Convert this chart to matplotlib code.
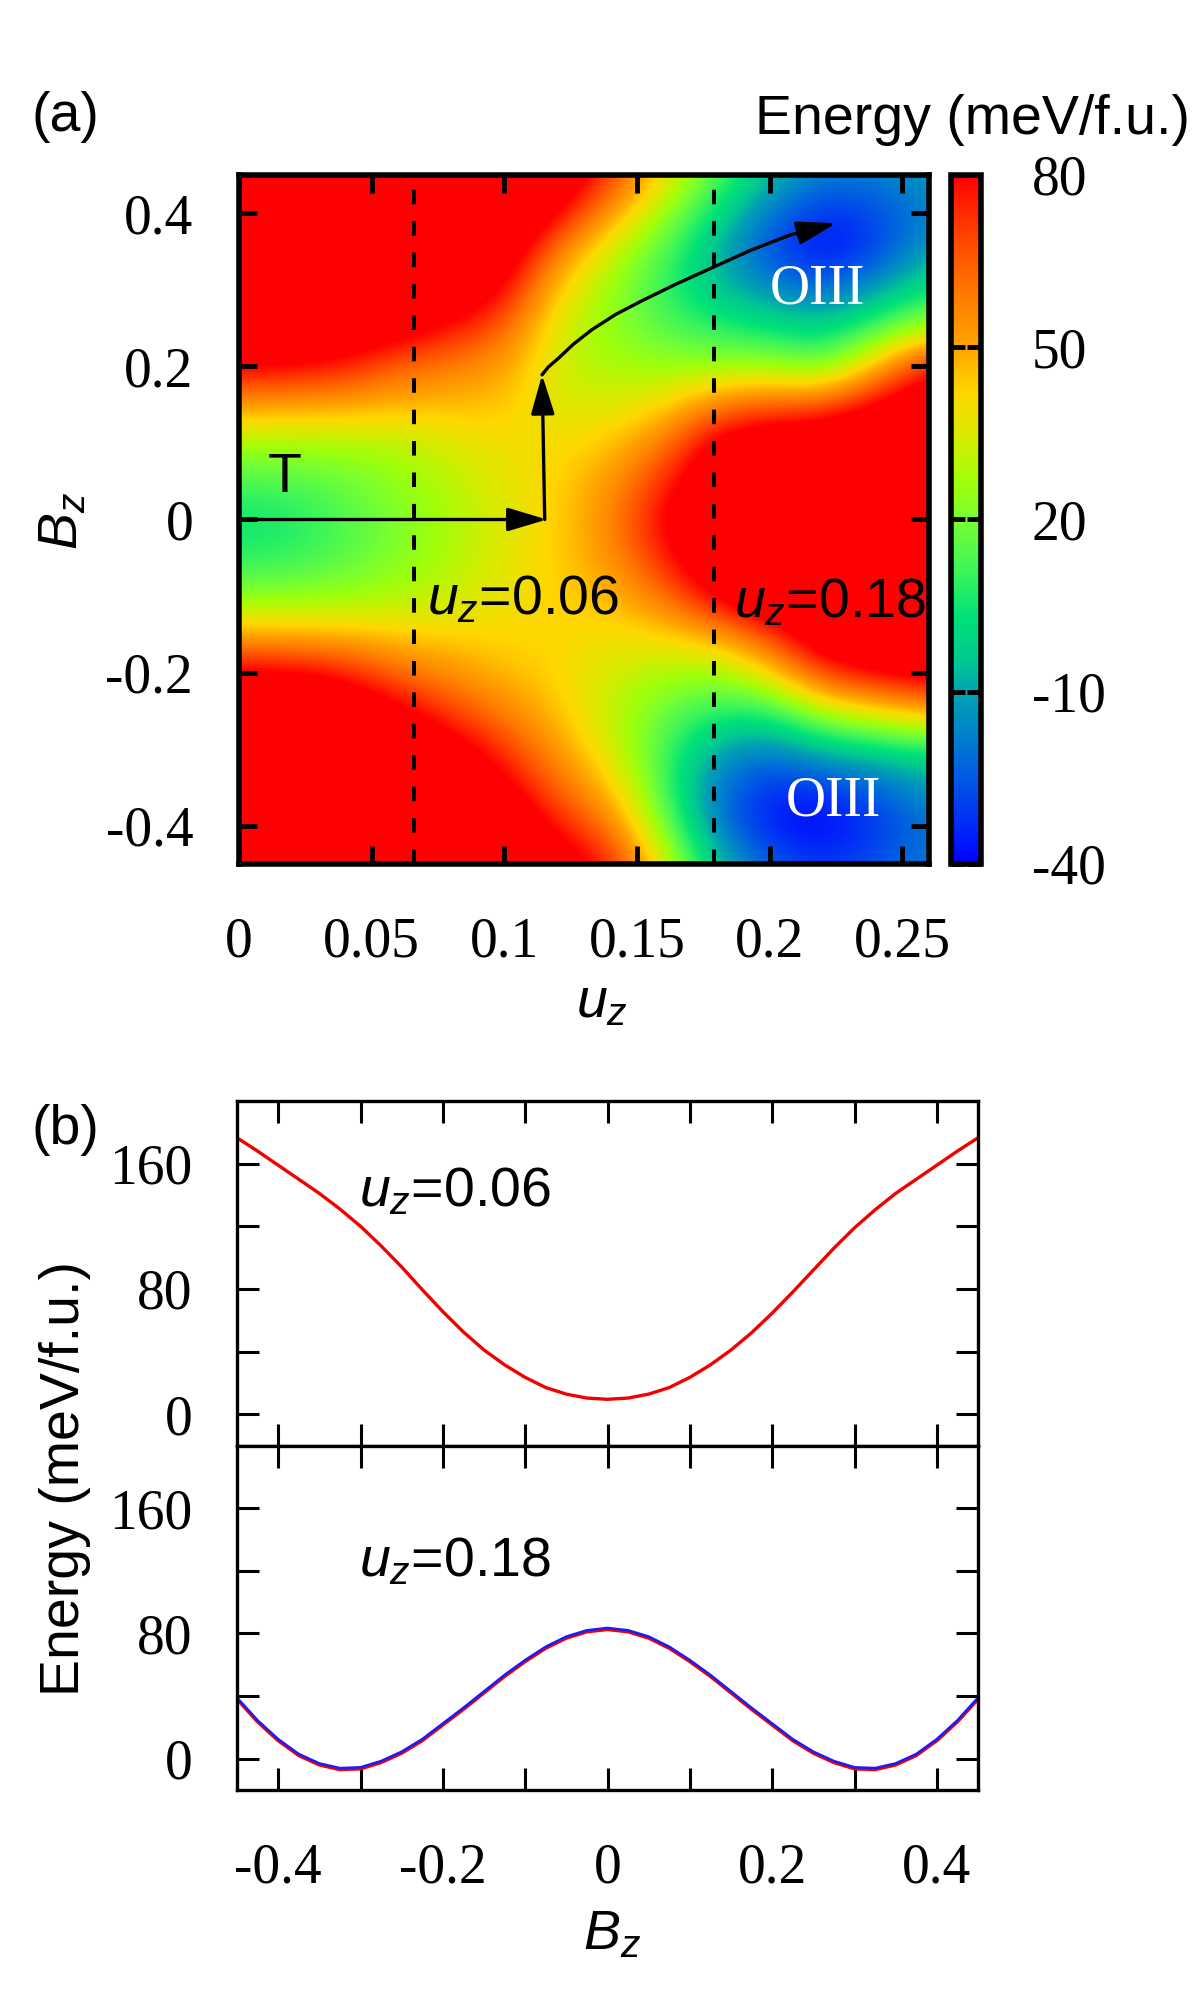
import numpy as np
import matplotlib
matplotlib.use('Agg')
import matplotlib.pyplot as plt
from matplotlib.colors import LinearSegmentedColormap

plt.rcParams['axes.unicode_minus'] = False
plt.rcParams['font.family'] = ['Liberation Serif', 'DejaVu Serif']
plt.rcParams['mathtext.fontset'] = 'custom'
plt.rcParams['mathtext.it'] = 'Liberation Sans:italic'
plt.rcParams['mathtext.rm'] = 'Liberation Sans'
plt.rcParams['mathtext.bf'] = 'Liberation Sans:bold'

# ---------------- data: panel (a) energy map ----------------
u_grid = [0.00, 0.02, 0.04, 0.06, 0.08, 0.10, 0.12, 0.14, 0.16, 0.18, 0.20, 0.22, 0.24, 0.26]
b_grid = [0.45, 0.40, 0.35, 0.30, 0.25, 0.20, 0.15, 0.10, 0.05, 0.00,
          -0.05, -0.10, -0.15, -0.20, -0.25, -0.30, -0.35, -0.40, -0.45]
# one list per u column, values from B=0.45 (top) to B=-0.45 (bottom), meV/f.u.
e_u000 = [130, 125, 118, 110, 98, 82, 52, 27, 13, 4, 8, 22, 48, 85, 100, 110, 118, 125, 130]
e_u002 = [130, 125, 118, 110, 98, 81, 51, 27, 14, 6, 10, 23, 47, 83, 100, 110, 118, 125, 130]
e_u004 = [128, 124, 117, 109, 95, 76, 50, 28, 18, 13, 15, 25, 46, 77, 96, 108, 117, 124, 128]
e_u006 = [125, 120, 112, 100, 88, 64, 47, 30, 24, 21, 22, 28, 43, 62, 85, 100, 112, 120, 125]
e_u008 = [122, 115, 105, 95, 78, 58, 46, 35, 30, 28, 29, 32, 42, 54, 70, 88, 102, 112, 118]
e_u010 = [114, 105, 94, 82, 64, 52, 45, 40, 37, 35, 36, 38, 41, 46, 57, 72, 85, 100, 110]
e_u012 = [96, 82, 58, 42, 34, 32, 35, 40, 42, 43, 43, 43, 42, 42, 45, 52, 63, 76, 90]
e_u014 = [72, 52, 32, 25, 24, 28, 35, 44, 52, 56, 53, 46, 39, 34, 31, 35, 45, 60, 78]
e_u016 = [40, 25, 14, 9, 15, 25, 40, 58, 74, 82, 76, 60, 42, 28, 18, 12, 12, 20, 35]
e_u018 = [14, 2, -8, -5, 8, 25, 58, 88, 95, 100, 95, 85, 50, 25, 8, -10, -20, -18, -5]
e_u020 = [-5, -20, -28, -14, 3, 26, 65, 95, 105, 110, 108, 100, 70, 40, 8, -18, -33, -37, -24]
e_u022 = [-18, -34, -39, -22, -2, 18, 65, 100, 108, 112, 110, 105, 95, 72, 30, -5, -32, -40, -32]
e_u024 = [-18, -28, -30, -12, 12, 45, 85, 100, 110, 115, 112, 108, 100, 82, 40, 0, -24, -32, -26]
e_u026 = [-12, -18, -10, 5, 28, 80, 95, 105, 110, 115, 112, 108, 100, 90, 50, 5, -12, -20, -18]

dashed_u = [0.066, 0.179]
cbar_ticks = [-40, -10, 20, 50, 80]

# transition path (arrows)
path_h_u = [0.0, 0.116]
path_h_b = [0.0, 0.0]
path_v_u = [0.1152, 0.1142]
path_v_b = [0.0, 0.189]
path_c_u = [0.1142, 0.1165, 0.1205, 0.126, 0.133, 0.142, 0.152, 0.165, 0.179, 0.193, 0.208, 0.225]
path_c_b = [0.189, 0.199, 0.211, 0.229, 0.248, 0.268, 0.286, 0.308, 0.330, 0.352, 0.372, 0.387]

# ---------------- data: panel (b) line cuts ----------------
b_cut = [-0.45, -0.425, -0.40, -0.375, -0.35, -0.325, -0.30, -0.275, -0.25, -0.225,
         -0.20, -0.175, -0.15, -0.125, -0.10, -0.075, -0.05, -0.025, 0.0,
         0.025, 0.05, 0.075, 0.10, 0.125, 0.15, 0.175, 0.20, 0.225, 0.25,
         0.275, 0.30, 0.325, 0.35, 0.375, 0.40, 0.425, 0.45]
e_cut_006 = [176.5, 168, 159, 150, 141, 131, 120, 107.5, 94, 79.5,
             65.5, 52.5, 41, 31.5, 23.5, 17, 12.8, 10.3, 9.5,
             10.3, 12.8, 17, 23.5, 31.5, 41, 52, 64.5, 78, 92,
             106, 119, 130.5, 141, 150, 159, 168, 176.5]
e_cut_018_blue = [39, 24.5, 12.5, 3, -3, -6, -5.5, -1.5, 4.5, 12.5,
                  22.5, 32.5, 43, 53.5, 63, 71.5, 78, 82, 83.5,
                  82, 78, 71.5, 63, 53.5, 43, 32.5, 22.5, 12.5, 4.5,
                  -1.5, -5.5, -6, -3, 3, 12.5, 24.5, 39]
e_cut_018_red = [38, 23.5, 11.5, 2, -4, -7, -6.5, -2.5, 3.5, 11.5,
                 21.5, 31.5, 42, 52.5, 62, 70.5, 77, 81, 82.5,
                 81, 77, 70.5, 62, 52.5, 42, 31.5, 21.5, 11.5, 3.5,
                 -2.5, -6.5, -7, -4, 2, 11.5, 23.5, 38]

# ---------------- colormap ----------------
cm_vals = [-40, -32, -24, -16.4, -10, -4.7, 3, 11, 20, 26.5, 34.3, 42, 46, 50, 57.6, 65.4, 73.2, 80]
cm_rgb = [(0, 0, 255), (0, 50, 245), (0, 95, 225), (0, 135, 200), (0, 165, 175), (0, 200, 145),
          (0, 225, 120), (60, 245, 90), (120, 255, 50), (160, 255, 10), (215, 235, 0),
          (255, 215, 0), (255, 190, 0), (255, 165, 0), (255, 130, 0), (255, 90, 0),
          (255, 45, 0), (255, 0, 0)]
vmin, vmax = cm_vals[0], cm_vals[-1]
cmap = LinearSegmentedColormap.from_list(
    'gp', [((v - vmin) / (vmax - vmin), tuple(c / 255 for c in rgb)) for v, rgb in zip(cm_vals, cm_rgb)],
    N=512)
cmap.set_over((1, 0, 0))
cmap.set_under((0, 0, 1))

SANS = 'Liberation Sans'
SERIF = 'Liberation Serif'
FS = 40

fig = plt.figure(figsize=(12, 20), dpi=100)

# ---------------- panel (a) ----------------
ax = fig.add_axes([239 / 1200, 1 - 864 / 2000, (929 - 239) / 1200, (864 - 175) / 2000])
E = np.array([e_u000, e_u002, e_u004, e_u006, e_u008, e_u010, e_u012,
              e_u014, e_u016, e_u018, e_u020, e_u022, e_u024, e_u026], dtype=float).T
du = u_grid[1] - u_grid[0]
db = b_grid[0] - b_grid[1]
im = ax.imshow(E, extent=[u_grid[0] - du / 2, u_grid[-1] + du / 2, b_grid[-1] - db / 2, b_grid[0] + db / 2],
               origin='upper', cmap=cmap, vmin=vmin, vmax=vmax, interpolation='bicubic',
               interpolation_stage='data', aspect='auto')
ax.set_xlim(0, 0.26)
ax.set_ylim(-0.45, 0.45)
for uu in dashed_u:
    ax.plot([uu, uu], [-0.45, 0.45], color='k', lw=2.9, dashes=(3.6, 4.2))

arrow_kw = dict(arrowstyle='-|>,head_length=0.8,head_width=0.24', mutation_scale=30,
                lw=2.4, color='k', shrinkA=0, shrinkB=0)
ax.annotate('', xy=(path_h_u[1], path_h_b[1]), xytext=(path_h_u[0], path_h_b[0]), arrowprops=arrow_kw)
ax.annotate('', xy=(path_v_u[1], path_v_b[1]), xytext=(path_v_u[0], path_v_b[0]), arrowprops=arrow_kw)
ax.plot(path_c_u[:-1], path_c_b[:-1], color='k', lw=2.4, solid_capstyle='round',
        solid_joinstyle='round')
ax.annotate('', xy=(path_c_u[-1], path_c_b[-1]), xytext=(path_c_u[-2], path_c_b[-2]), arrowprops=arrow_kw)

ax.text(0.0173, 0.0547, 'T', family=SANS, fontsize=FS, ha='center', va='center')
ax.text(0.218, 0.301, 'OIII', family=SERIF, fontsize=FS, color='white', ha='center', va='center')
ax.text(0.224, -0.369, 'OIII', family=SERIF, fontsize=FS, color='white', ha='center', va='center')
ax.text(0.0708, -0.124, '$u_z$=0.06', family=SANS, fontsize=FS, ha='left', va='baseline')
ax.text(0.1864, -0.128, '$u_z$=0.18', family=SANS, fontsize=FS, ha='left', va='baseline')

ax.set_xticks([0, 0.05, 0.1, 0.15, 0.2, 0.25])
ax.set_xticklabels(['0', '0.05', '0.1', '0.15', '0.2', '0.25'])
ax.set_yticks([-0.4, -0.2, 0, 0.2, 0.4])
ax.set_yticklabels(['-0.4', '-0.2', '0', '0.2', '0.4'])
ax.tick_params(axis='both', direction='in', top=True, right=True, length=13, width=3.5,
               labelsize=FS)
ax.tick_params(axis='x', pad=38)
ax.tick_params(axis='y', pad=33)
for sp in ax.spines.values():
    sp.set_linewidth(4)

# colorbar
cax = fig.add_axes([950.5 / 1200, 1 - 864 / 2000, 30 / 1200, (864 - 175) / 2000])
cb = fig.colorbar(im, cax=cax, ticks=cbar_ticks, extend='neither')
cb.outline.set_linewidth(4)
cax.set_yticklabels([str(t) for t in cbar_ticks])
cax.yaxis.set_ticks_position('both')
cax.tick_params(axis='y', direction='in', left=True, right=True, length=10, width=3.5,
                labelsize=FS, pad=37, labelleft=False, labelright=True)

fig.text(65 / 1200, 1 - 117 / 2000, '(a)', family=SANS, fontsize=FS, ha='center', va='center')
fig.text(1190 / 1200, 1 - 134 / 2000, 'Energy (meV/f.u.)', family=SANS, fontsize=FS,
         ha='right', va='baseline')
fig.text(63 / 1200, 1 - 521 / 2000, '$B_z$', fontsize=FS, rotation=90, ha='center', va='center')
fig.text(602 / 1200, 1 - 1003 / 2000, '$u_z$', fontsize=FS, ha='center', va='center')

# ---------------- panel (b) ----------------
axb1 = fig.add_axes([237 / 1200, 1 - 1445.5 / 2000, (978 - 237) / 1200, 344.5 / 2000])
axb2 = fig.add_axes([237 / 1200, 1 - 1790 / 2000, (978 - 237) / 1200, 344.5 / 2000])

axb1.plot(b_cut, e_cut_006, color=(0.95, 0, 0), lw=2.4, solid_joinstyle='round')
axb2.plot(b_cut, e_cut_018_red, color=(0.95, 0, 0), lw=2.4, solid_joinstyle='round')
axb2.plot(b_cut, e_cut_018_blue, color=(0.1, 0.1, 1.0), lw=1.8, solid_joinstyle='round')

axb1.text(-0.302, 133, '$u_z$=0.06', family=SANS, fontsize=FS, ha='left', va='baseline')
axb2.text(-0.302, 116.5, '$u_z$=0.18', family=SANS, fontsize=FS, ha='left', va='baseline')

for a in (axb1, axb2):
    a.set_xlim(-0.45, 0.45)
    a.set_ylim(-20, 200)
    a.set_xticks([-0.4, -0.3, -0.2, -0.1, 0, 0.1, 0.2, 0.3, 0.4])
    a.set_xticklabels(['-0.4', '', '-0.2', '', '0', '', '0.2', '', '0.4'])
    a.set_yticks([0, 40, 80, 120, 160])
    a.set_yticklabels(['0', '', '80', '', '160'])
    a.tick_params(axis='both', direction='in', top=True, right=True, length=16, width=2.2,
                  labelsize=FS)
    a.tick_params(axis='x', pad=38)
    a.tick_params(axis='y', pad=32)
    for sp in a.spines.values():
        sp.set_linewidth(2.4)
axb1.tick_params(axis='x', labelbottom=False)

fig.text(65 / 1200, 1 - 1130 / 2000, '(b)', family=SANS, fontsize=FS, ha='center', va='center')
fig.text(65 / 1200, 1 - 1478 / 2000, 'Energy (meV/f.u.)', family=SANS, fontsize=FS,
         rotation=90, ha='center', va='center')
fig.text(612 / 1200, 1 - 1935 / 2000, '$B_z$', fontsize=FS, ha='center', va='center')

fig.savefig('out.png', dpi=100)
